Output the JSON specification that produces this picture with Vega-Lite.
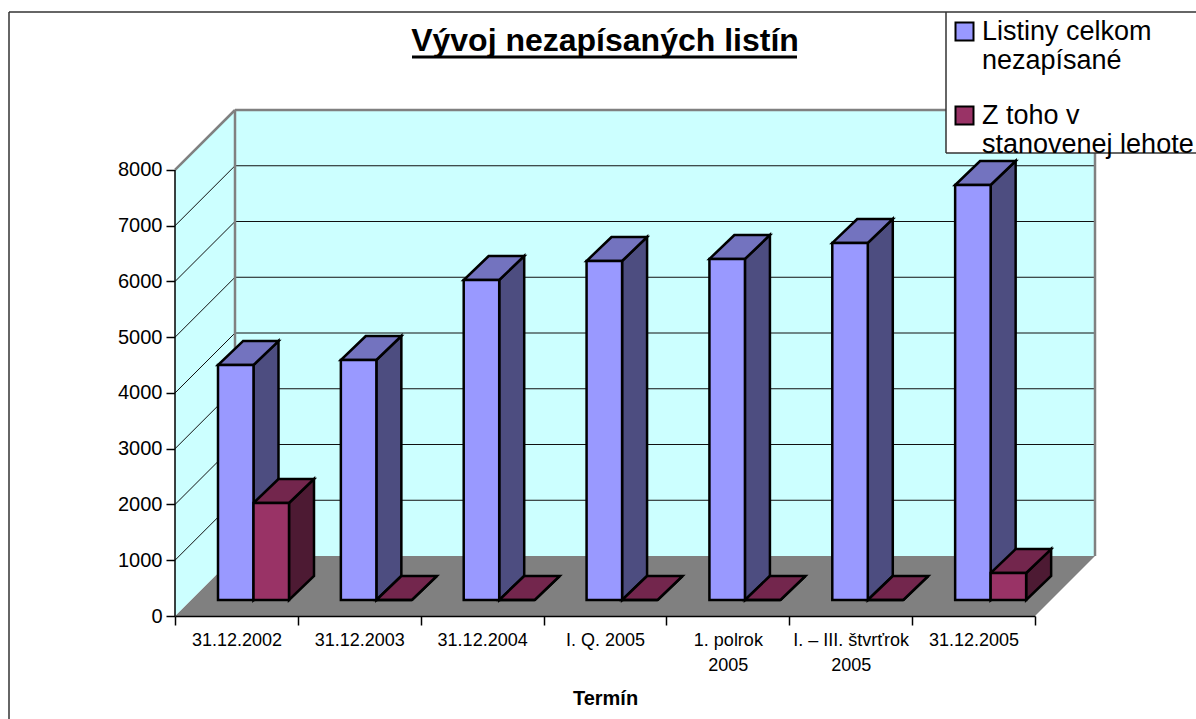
{
"$schema":"https://vega.github.io/schema/vega-lite/v6.json",
"width":920,"height":506,
"autosize":{"type":"none"},
"padding":{"left":175,"top":110,"right":101,"bottom":103},
"background":"white",
"view":{"stroke":null},
"title":{"text":"Vývoj nezapísaných listín","font":"Liberation Sans","fontSize":32,"fontWeight":"bold","color":"black","anchor":"middle","frame":"group","dx":-30,"offset":-47},
"config":{"font":"Liberation Sans"},
"datasets":{
"bars":[
{"term":"31.12.2002","series":"Listiny celkom nezapísané","value":4215},
{"term":"31.12.2003","series":"Listiny celkom nezapísané","value":4305},
{"term":"31.12.2004","series":"Listiny celkom nezapísané","value":5740},
{"term":"I. Q. 2005","series":"Listiny celkom nezapísané","value":6081},
{"term":"1. polrok 2005","series":"Listiny celkom nezapísané","value":6117},
{"term":"I. – III. štvrťrok 2005","series":"Listiny celkom nezapísané","value":6404},
{"term":"31.12.2005","series":"Listiny celkom nezapísané","value":7444},
{"term":"31.12.2002","series":"Z toho v stanovenej lehote","value":1740},
{"term":"31.12.2003","series":"Z toho v stanovenej lehote","value":0},
{"term":"31.12.2004","series":"Z toho v stanovenej lehote","value":0},
{"term":"I. Q. 2005","series":"Z toho v stanovenej lehote","value":0},
{"term":"1. polrok 2005","series":"Z toho v stanovenej lehote","value":0},
{"term":"I. – III. štvrťrok 2005","series":"Z toho v stanovenej lehote","value":0},
{"term":"31.12.2005","series":"Z toho v stanovenej lehote","value":484}
],
"patch":[{"x":771,"x2":1021,"y":7641,"y2":8305}],
"walls":[{"x":60,"x2":920,"y":1076,"y2":8305},{"x":60,"x2":771,"y":8305,"y2":9076}],
"floor":[{"y":0,"x":0,"x2":860},{"y":1076,"x":60,"x2":920}],
"leftwall":[{"x":0,"y":0,"y2":8000},{"x":60,"y":1076,"y2":9076}],
"grid":[
{"x":0,"y":1000,"x2":60,"y2":2076},{"x":60,"y":2076,"x2":920,"y2":2076},
{"x":0,"y":2000,"x2":60,"y2":3076},{"x":60,"y":3076,"x2":920,"y2":3076},
{"x":0,"y":3000,"x2":60,"y2":4076},{"x":60,"y":4076,"x2":920,"y2":4076},
{"x":0,"y":4000,"x2":60,"y2":5076},{"x":60,"y":5076,"x2":920,"y2":5076},
{"x":0,"y":5000,"x2":60,"y2":6076},{"x":60,"y":6076,"x2":920,"y2":6076},
{"x":0,"y":6000,"x2":60,"y2":7076},{"x":60,"y":7076,"x2":920,"y2":7076},
{"x":0,"y":7000,"x2":60,"y2":8076},{"x":60,"y":8076,"x2":920,"y2":8076}
],
"border":[
{"x":0,"y":8000,"x2":60,"y2":9076},{"x":60,"y":9076,"x2":771,"y2":9076},
{"x":60,"y":1076,"x2":60,"y2":9076},{"x":920,"y":1076,"x2":920,"y2":8305}
],
"yline":[{"x":0,"y":0,"x2":0,"y2":8000}],
"frame":[
{"x":-166,"y":10834,"x2":1021,"y2":10834},{"x":-166,"y":-1847,"x2":-166,"y2":10834},
{"x":771,"y":8305,"x2":771,"y2":10834},{"x":771,"y":8305,"x2":1021,"y2":8305}
],
"underline":[{"x":237,"y":10027,"x2":622,"y2":10027}]
},
"layer":[
{"layer":[
{"data":{"name":"patch"},"mark":{"type":"rect","fill":"white"},
"encoding":{"x":{"field":"x","type":"quantitative","scale":{"domain":[0,920],"nice":false,"zero":false},"axis":null},"x2":{"field":"x2"},
"y":{"field":"y","type":"quantitative","scale":{"domain":[0,9076],"nice":false},
"axis":{"values":[0,1000,2000,3000,4000,5000,6000,7000,8000],"format":"d","domain":false,"grid":false,"title":null,"tickSize":9,"tickColor":"black","tickWidth":1.5,"labelFontSize":20,"labelColor":"black","labelPadding":4,"labelFont":"Liberation Sans"}},"y2":{"field":"y2"}}},
{"data":{"name":"walls"},"mark":{"type":"rect","fill":"#CCFFFF"},
"encoding":{"x":{"field":"x","type":"quantitative","axis":null},"x2":{"field":"x2"},"y":{"field":"y","type":"quantitative"},"y2":{"field":"y2"}}},
{"data":{"name":"floor"},"mark":{"type":"area","orient":"horizontal","fill":"#808080"},
"encoding":{"y":{"field":"y","type":"quantitative"},"x":{"field":"x","type":"quantitative","axis":null},"x2":{"field":"x2"}}},
{"data":{"name":"leftwall"},"mark":{"type":"area","fill":"#CCFFFF"},
"encoding":{"x":{"field":"x","type":"quantitative","axis":null},"y":{"field":"y","type":"quantitative"},"y2":{"field":"y2"}}},
{"data":{"name":"grid"},"mark":{"type":"rule","stroke":"#111111","strokeWidth":1},
"encoding":{"x":{"field":"x","type":"quantitative","axis":null},"x2":{"field":"x2"},"y":{"field":"y","type":"quantitative"},"y2":{"field":"y2"}}},
{"data":{"name":"border"},"mark":{"type":"rule","stroke":"#808080","strokeWidth":2.5},
"encoding":{"x":{"field":"x","type":"quantitative","axis":null},"x2":{"field":"x2"},"y":{"field":"y","type":"quantitative"},"y2":{"field":"y2"}}},
{"data":{"name":"yline"},"mark":{"type":"rule","stroke":"black","strokeWidth":1.5},
"encoding":{"x":{"field":"x","type":"quantitative","axis":null},"x2":{"field":"x2"},"y":{"field":"y","type":"quantitative"},"y2":{"field":"y2"}}},
{"data":{"name":"frame"},"mark":{"type":"rule","stroke":"#333333","strokeWidth":1.5},
"encoding":{"x":{"field":"x","type":"quantitative","axis":null},"x2":{"field":"x2"},"y":{"field":"y","type":"quantitative"},"y2":{"field":"y2"}}},
{"data":{"name":"underline"},"mark":{"type":"rule","stroke":"black","strokeWidth":3},
"encoding":{"x":{"field":"x","type":"quantitative","axis":null},"x2":{"field":"x2"},"y":{"field":"y","type":"quantitative"},"y2":{"field":"y2"}}},
{"data":{"name":"bars"},
"transform":[
{"calculate":"indexof(['31.12.2002','31.12.2003','31.12.2004','I. Q. 2005','1. polrok 2005','I. – III. štvrťrok 2005','31.12.2005'],datum.term)","as":"i"},
{"calculate":"datum.series==='Listiny celkom nezapísané'?0:1","as":"s"},
{"calculate":"43+datum.i*122.857+datum.s*35.5","as":"x0"},
{"calculate":"datum.x0+35.5","as":"x1"},
{"calculate":"datum.value+287","as":"yt"},
{"calculate":"287","as":"yb"},
{"calculate":"[0,1]","as":"t"},
{"flatten":["t"]},
{"calculate":"datum.x1+datum.t*25","as":"sx"},
{"calculate":"datum.yt+datum.t*430","as":"sy"},
{"calculate":"datum.yb+datum.t*430","as":"sy0"},
{"calculate":"datum.x0+datum.t*25","as":"tx"}
],
"layer":[
{"mark":{"type":"area","stroke":"black","strokeWidth":2.5,"strokeJoin":"miter"},
"encoding":{"x":{"field":"sx","type":"quantitative","axis":null},"y":{"field":"sy","type":"quantitative","stack":null},"y2":{"field":"sy0"},
"detail":[{"field":"term"},{"field":"series"}],
"fill":{"condition":{"test":"datum.s===0","value":"#4D4D80"},"value":"#4D1A33"}}},
{"mark":{"type":"area","orient":"horizontal","stroke":"black","strokeWidth":2.5,"strokeJoin":"miter"},
"encoding":{"y":{"field":"sy","type":"quantitative"},"x":{"field":"tx","type":"quantitative","axis":null,"stack":null},"x2":{"field":"sx"},
"detail":[{"field":"term"},{"field":"series"}],
"fill":{"condition":{"test":"datum.s===0","value":"#7373BF"},"value":"#73264D"}}},
{"transform":[{"filter":"datum.t===0"}],
"mark":{"type":"rect","stroke":"black","strokeWidth":2.5},
"encoding":{"x":{"field":"x0","type":"quantitative","axis":null},"x2":{"field":"x1"},"y":{"field":"yt","type":"quantitative"},"y2":{"field":"yb"},
"fill":{"field":"series","type":"nominal","scale":{"domain":["Listiny celkom nezapísané","Z toho v stanovenej lehote"],"range":["#9999FF","#993366"]},
"legend":{"orient":"none","legendX":775,"legendY":-92,"title":null,"symbolType":"square","symbolSize":324,"symbolOffset":1,"symbolStrokeColor":"black","symbolStrokeWidth":2,"labelFontSize":27,"labelColor":"black","labelFont":"Liberation Sans","labelLimit":260,"rowPadding":27,"labelExpr":"datum.label==='Listiny celkom nezapísané'?['Listiny celkom','nezapísané']:['Z toho v','stanovenej lehote']"}}}}
]}
]},
{"data":{"name":"bars"},"mark":{"type":"rule","opacity":0},
"encoding":{"x":{"field":"term","type":"nominal","sort":null,"scale":{"type":"band","range":[0,860],"paddingInner":0,"paddingOuter":0,"domain":["31.12.2002","31.12.2003","31.12.2004","I. Q. 2005","1. polrok 2005","I. – III. štvrťrok 2005","31.12.2005"]},
"axis":{"title":"Termín","titleFontSize":20,"titleFontWeight":"bold","titleColor":"black","titleFont":"Liberation Sans","titlePadding":14,"labelAngle":0,"labelFontSize":18,"labelColor":"black","labelFont":"Liberation Sans","labelPadding":6,"labelLimit":200,"tickBand":"extent","tickSize":9,"tickColor":"black","tickWidth":1.5,"domainColor":"black","domainWidth":1.5,"zindex":1,"labelLineHeight":25,"labelExpr":"datum.label==='1. polrok 2005'?['1. polrok','2005']:datum.label==='I. – III. štvrťrok 2005'?['I. – III. štvrťrok','2005']:datum.label"}}}}
],
"resolve":{"scale":{"x":"independent"}}
}
